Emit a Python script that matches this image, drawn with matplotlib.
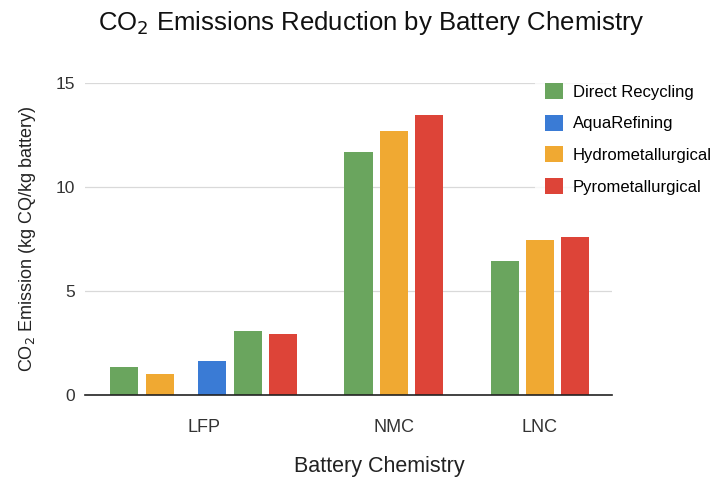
import matplotlib.pyplot as plt
from matplotlib.patches import Patch

plt.rcParams['font.family'] = ['Liberation Sans', 'DejaVu Sans']

# data
categories = ['LFP', 'NMC', 'LNC']
methods = ['Direct Recycling', 'AquaRefining', 'Hydrometallurgical', 'Pyrometallurgical']
colors = {'Direct Recycling': '#6AA55E', 'AquaRefining': '#3A7BD5',
          'Hydrometallurgical': '#F0A932', 'Pyrometallurgical': '#DD4438'}

lfp_methods = ['Direct Recycling', 'Hydrometallurgical', 'AquaRefining', 'Direct Recycling', 'Pyrometallurgical']
lfp_values = [1.35, 1.0, 1.62, 3.08, 2.93]
nmc_methods = ['Direct Recycling', 'Hydrometallurgical', 'Pyrometallurgical']
nmc_values = [11.68, 12.7, 13.45]
lnc_methods = ['Direct Recycling', 'Hydrometallurgical', 'Pyrometallurgical']
lnc_values = [6.44, 7.45, 7.6]

groups = [(lfp_methods, lfp_values), (nmc_methods, nmc_values), (lnc_methods, lnc_values)]

fig = plt.figure(figsize=(7.22, 4.8), dpi=100)
ax = fig.add_axes([0.1177, 0.177, 0.7299, 0.650])

bar_width = 0.8
group_gap = 2.15
x = 0.0
tick_pos = []
for gi, (meths, vals) in enumerate(groups):
    xs = []
    for i, (m, v) in enumerate(zip(meths, vals)):
        # the LFP group has an empty slot after its second bar
        if gi == 0 and i == 2:
            x += 0.5
        ax.bar(x, v, width=bar_width, color=colors[m], zorder=3)
        xs.append(x)
        x += 1
    tick_pos.append((xs[0] + xs[-1]) / 2)
    x += group_gap - 1

ax.set_xlim(-1.12, 13.85)
ax.set_ylim(0, 15)
ax.set_yticks([0, 5, 10, 15])
ax.set_xticks(tick_pos)
ax.set_xticklabels(categories)
ax.tick_params(axis='both', length=0, labelcolor='#333333')
ax.tick_params(axis='x', pad=17, labelsize=13)
ax.tick_params(axis='y', pad=7, labelsize=12.5)

ax.grid(axis='y', color='#d9d9d9', linewidth=0.9, zorder=0)
for s in ['top', 'right', 'left']:
    ax.spines[s].set_visible(False)
ax.spines['bottom'].set_color('#222222')
ax.spines['bottom'].set_linewidth(1.2)
ax.spines['bottom'].set_zorder(4)

ax.set_ylabel('CO$_2$ Emission (kg CQ/kg battery)', fontsize=13, color='#222222', labelpad=13)
ax.set_xlabel('Battery Chemistry', fontsize=15.5, color='#222222')
ax.xaxis.set_label_coords(0.558, -0.195)
fig.text(0.515, 0.952, 'CO$_2$ Emissions Reduction by Battery Chemistry',
         ha='center', va='center', fontsize=18.5, color='#111111')

handles = [Patch(facecolor=colors[m], label=m) for m in methods]
leg = fig.legend(handles=handles, loc='upper left', bbox_to_anchor=(0.73, 0.865),
                 frameon=True, fontsize=12, handlelength=1.05, handleheight=1.1,
                 handletextpad=0.6, labelspacing=0.9, borderpad=0.6)
leg.get_frame().set_edgecolor('none')
leg.get_frame().set_facecolor('white')
leg.set_zorder(5)

fig.savefig('out.png', dpi=100)
